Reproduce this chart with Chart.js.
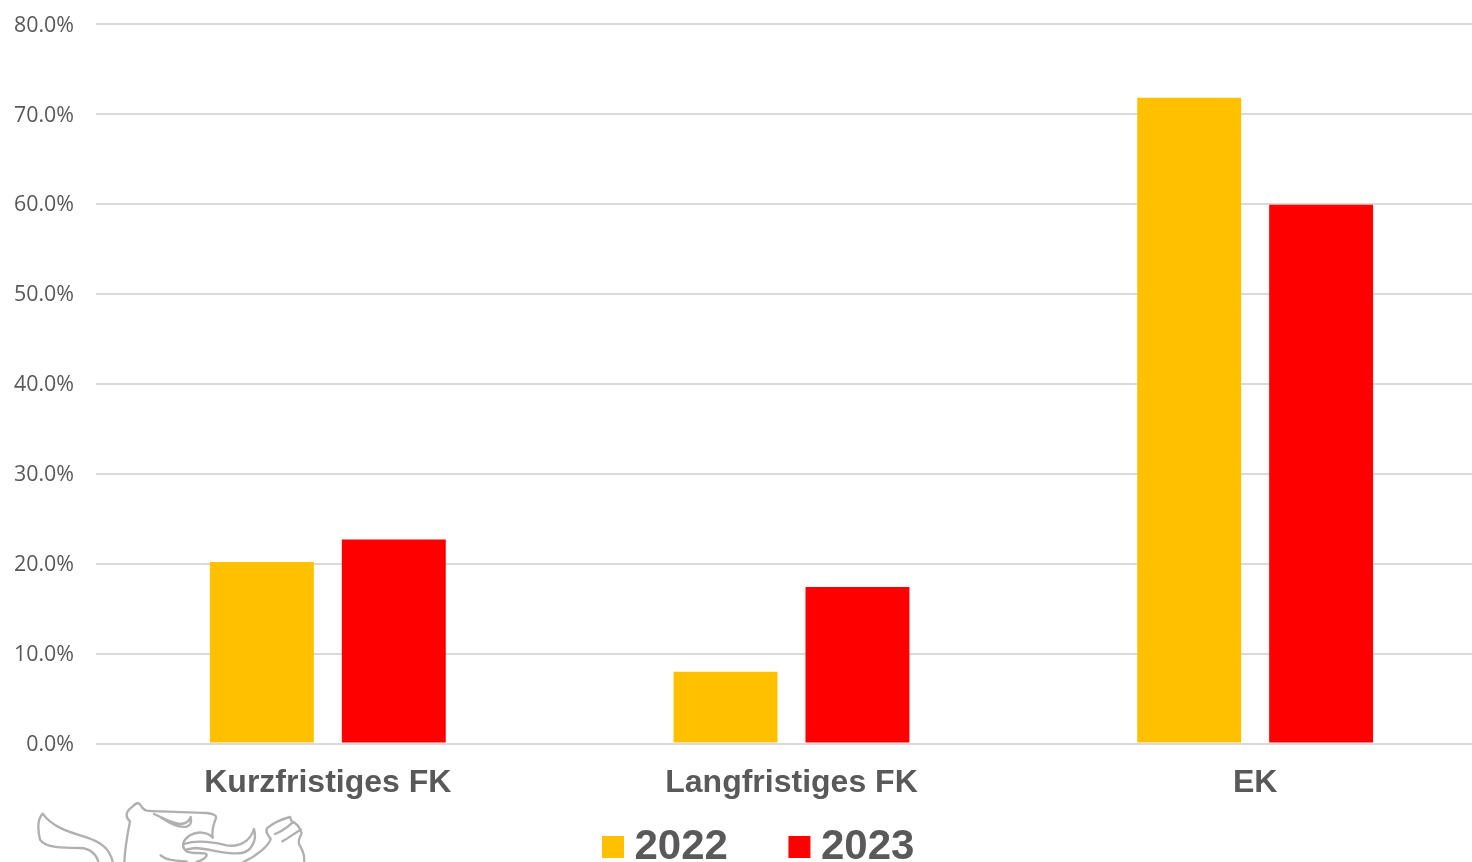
<!DOCTYPE html>
<html>
<head>
<meta charset="utf-8">
<script src="https://cdn.jsdelivr.net/npm/chart.js@4/dist/chart.umd.min.js"></script>
<style>
html,body{margin:0;padding:0;width:1472px;height:862px;overflow:hidden;background:#fff}
#wrap{position:relative;width:1472px;height:862px;overflow:hidden}
canvas{position:absolute;left:0;top:0}
svg{position:absolute;left:30px;top:798px}
</style>
</head>
<body>
<div id="wrap">
<canvas id="c" width="1487" height="945" style="width:1487px;height:945px"></canvas>
<svg width="280" height="64" viewBox="0 0 840 192" fill="none" stroke="#b0b0b0" stroke-width="7" stroke-linecap="round" stroke-linejoin="round">
<path d="M248,192 C240,150 210,130 160,115 C110,100 65,85 38,47 C25,60 22,90 30,125 C45,150 100,150 150,150 C180,150 200,170 205,192"/>
<path d="M283,192 C285,150 292,110 300,70 C288,60 285,45 300,32 C310,25 315,15 325,15 C335,20 335,35 350,38 C400,42 470,42 530,45 C550,47 560,52 558,60 C550,80 545,100 548,118"/>
<path d="M372,48 C400,60 420,75 450,78 C470,78 478,68 482,57 C485,70 482,82 470,86 C440,90 415,72 395,60"/>
<path d="M548,118 C530,100 500,100 480,112 C460,125 450,145 470,160 C490,170 525,160 530,170 C530,180 510,190 500,192"/>
<path d="M462,138 C500,125 550,132 590,142 C630,148 660,130 672,93 C682,125 665,160 635,165 C600,172 550,155 500,150 C485,150 475,153 468,155"/>
<path d="M392,172 C410,188 440,188 470,190"/>
<path d="M640,192 C680,175 720,140 722,122 C712,110 705,100 712,90 C730,75 760,62 780,57 L785,70 C800,75 810,90 815,105 C810,120 802,125 808,140 C820,160 825,175 822,192"/>
<path d="M735,108 C760,100 775,85 790,72"/>
<path d="M757,130 C775,120 795,105 812,95"/>
</svg>
</div>
<script>
const categories = ["Kurzfristiges FK", "Langfristiges FK", "EK"];
const seriesNames = ["2022", "2023"];
const values2022 = [20.2, 8.0, 71.8];
const values2023 = [22.7, 17.4, 59.9];
const colors = ["#FFC000", "#FF0000"];
const textColor = "#595959";
const gridColor = "#D9D9D9";

const placeLegend = {
  id: "placeLegend",
  afterLayout(chart) {
    chart.legend.left = 541.5;
    chart.legend.top = 755;
  }
};

new Chart(document.getElementById("c"), {
  type: "bar",
  data: {
    labels: categories,
    datasets: [
      { label: seriesNames[0], data: values2022, backgroundColor: colors[0], borderWidth: 0 },
      { label: seriesNames[1], data: values2023, backgroundColor: colors[1], borderWidth: 0 }
    ]
  },
  options: {
    responsive: false,
    animation: false,
    devicePixelRatio: 1,
    categoryPercentage: 0.569,
    barPercentage: 0.788,
    layout: { padding: 0 },
    scales: {
      x: {
        grid: { display: false, drawTicks: false },
        border: { display: false },
        ticks: {
          color: textColor,
          padding: 20,
          maxRotation: 0,
          font: { family: "'Liberation Sans'", size: 32, weight: "bold" }
        }
      },
      y: {
        min: 0,
        max: 80,
        afterFit(scale) { scale.width = 96; scale.paddingTop = 24; },
        grid: { color: gridColor, lineWidth: 2, drawTicks: false },
        border: { display: false },
        ticks: {
          stepSize: 10,
          color: textColor,
          padding: 22,
          labelOffset: 1.5,
          font: { family: "'Open Sans'", size: 21.4 },
          callback: v => v.toFixed(1) + "%"
        }
      }
    },
    plugins: {
      tooltip: { enabled: false },
      legend: {
        position: "bottom",
        align: "start",
        labels: {
          usePointStyle: true,
          pointStyle: "rect",
          boxWidth: 1,
          boxHeight: 22,
          padding: 71,
          color: textColor,
          font: { family: "'Liberation Sans'", size: 42, weight: "bold" }
        }
      }
    }
  },
  plugins: [placeLegend]
});
</script>
</body>
</html>
